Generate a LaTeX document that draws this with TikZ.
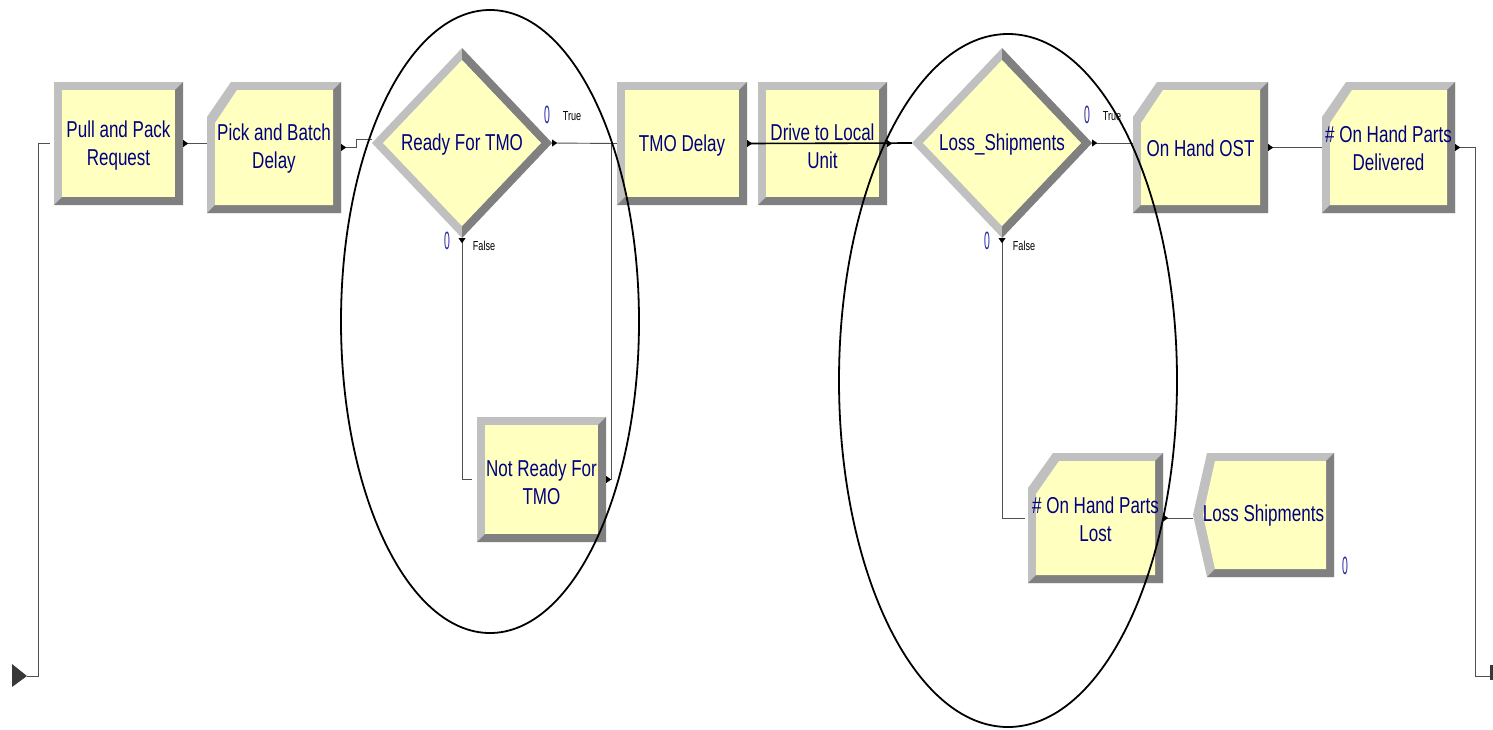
\documentclass[tikz,border=0pt]{standalone}
\usepackage{fontspec}
\setmainfont{Liberation Sans}[FakeStretch=0.74]
\newfontfamily\cntfont{Liberation Sans}[FakeStretch=0.42]
\newfontfamily\lblfont{Liberation Sans}[FakeStretch=0.7]
\usetikzlibrary{arrows.meta,calc}
\definecolor{modfill}{RGB}{255,255,192}
\definecolor{bevlight}{RGB}{192,192,192}
\definecolor{bevdark}{RGB}{128,128,128}
\definecolor{modtext}{RGB}{0,0,128}
\definecolor{cntblue}{RGB}{40,40,170}
\definecolor{conn}{RGB}{80,80,80}
\tikzset{
  modbody/.style={inner sep=0pt},
  modlabel/.style={inner sep=0pt, align=center, text=modtext, font=\fontsize{23}{28}\selectfont},
  cntlabel/.style={inner sep=0pt, text=cntblue, font=\cntfont\fontsize{25}{25}\selectfont},
  smalllabel/.style={inner sep=0pt, text=black, font=\lblfont\fontsize{13}{13}\selectfont},
  connector/.style={draw=conn, line width=0.9pt},
  mainconnector/.style={draw=black, line width=1.6pt},
  ring/.style={draw=black, line width=1.8pt},
}
% rectangular module: name x1 y1 x2 y2 text
\newcommand{\rectmod}[6]{%
  \fill[bevlight] (#2,#3) rectangle (#4,#5);
  \fill[bevdark] (#4,#3) -- (#4,#5) -- (#2,#5) -- (#2+8,#5-8) -- (#4-8,#5-8) -- (#4-8,#3+8) -- cycle;
  \fill[modfill] (#2+8,#3+8) rectangle (#4-8,#5-8);
  \node[modbody, minimum width=#4-#2, minimum height=#5-#3] (#1) at ({(#2+#4)/2},{(#3+#5)/2}) {};
  \node[modlabel] (#1-text) at ([yshift=-2.5pt]#1.center) {#6};
}
% cut-corner module: name x1 y1 x2 y2 cx cy text
\newcommand{\cutmod}[8]{%
  \fill[bevlight] (#2,#3+#7) -- (#2+#6,#3) -- (#4,#3) -- (#4,#5) -- (#2,#5) -- cycle;
  \fill[bevdark] (#4,#3) -- (#4,#5) -- (#2,#5) -- (#2+8,#5-8) -- (#4-8,#5-8) -- (#4-8,#3+8) -- cycle;
  \fill[modfill] (#2+8,#3+#7+6) -- (#2+#6+6,#3+8) -- (#4-8,#3+8) -- (#4-8,#5-8) -- (#2+8,#5-8) -- cycle;
  \node[modbody, minimum width=#4-#2, minimum height=#5-#3] (#1) at ({(#2+#4)/2},{(#3+#5)/2}) {};
  \node[modlabel] (#1-text) at ([yshift=-1pt]#1.center) {#8};
}
% decision module: name cx cy text
\newcommand{\decmod}[4]{%
  \fill[bevlight] (#2-90,#3) -- (#2,#3-95) -- (#2+90,#3) -- (#2,#3+95) -- cycle;
  \fill[bevdark] (#2,#3-95) -- (#2+90,#3) -- (#2,#3+95) -- (#2,#3+83) -- (#2+79,#3) -- (#2,#3-83) -- cycle;
  \fill[modfill] (#2-79,#3) -- (#2,#3-83) -- (#2+79,#3) -- (#2,#3+83) -- cycle;
  \node[modbody, minimum width=180, minimum height=190] (#1) at (#2,#3) {};
  \node[modlabel] (#1-text) at ([yshift=-1.5pt]#1.center) {#4};
}
\newcommand{\exitR}[1]{\fill[black] ($(#1)+(0,-3.5)$) -- ++(5,3.5) -- ++(-5,3.5) -- cycle;}
\newcommand{\exitD}[1]{\fill[black] ($(#1)+(-3.5,0)$) -- ++(3.5,5) -- ++(3.5,-5) -- cycle;}

\begin{document}
\begin{tikzpicture}[x=1pt, y=-1pt]
\useasboundingbox (0,0) rectangle (1493,729);
\fill[white] (0,0) rectangle (1493,729);

% modules
\rectmod{pp}{54}{82}{183}{205}{Pull and Pack\\Request}
\cutmod{pb}{207}{82}{341}{213}{24}{35}{Pick and Batch\\Delay}
\decmod{d1}{462}{143}{Ready For TMO}
\rectmod{nr}{477}{417}{606}{542}{Not Ready For\\TMO}
\rectmod{tmo}{617}{82}{747}{205}{TMO Delay}
\rectmod{drv}{758}{82}{887}{205}{Drive to Local\\Unit}
\decmod{d2}{1002}{143}{Loss\_Shipments}
\cutmod{ost}{1133}{82}{1268}{213}{24}{35}{On Hand OST}
\cutmod{pd}{1322}{82}{1455}{213}{24}{35}{\# On Hand Parts\\Delivered}
\cutmod{lost}{1028}{453}{1163}{583}{25}{35}{\# On Hand Parts\\Lost}
% dispose module
\fill[bevlight] (1207,453) -- (1334,453) -- (1334,577) -- (1207,577) -- (1193,515) -- cycle;
\fill[bevdark] (1334,453) -- (1334,577) -- (1207,577) -- (1215,569) -- (1326,569) -- (1326,461) -- cycle;
\fill[modfill] (1215,461) -- (1326,461) -- (1326,569) -- (1215,569) -- (1203,515) -- cycle;
\node[modbody, minimum width=141, minimum height=124] (ls) at (1263.5,515) {};
\node[modlabel] (ls-text) at ([yshift=-1pt]ls.center) {Loss Shipments};

% start and end markers
\fill[conn!70!black] (12,664) -- (27,676) -- (12,687) -- cycle;
\coordinate (startpt) at (27,676);
\coordinate (endpt) at (1490,676);
\fill[conn!70!black] (1490,665) rectangle (1493,680);

% connectors
\draw[connector] (startpt) -- ++(11,0) |- ([xshift=-4pt]pp.west);
\draw[connector] (pp.east) -- (pp.east -| pb.west);
\draw[connector] (pb.east) -- ++(15,0) |- ([yshift=4pt]d1.west);
\draw[connector] (d1.east) -- (tmo.west);
\draw[connector] (nr.east) -- ++(5,0) |- (tmo.west);
\draw[connector] (d1.south) |- ([xshift=-5pt]nr.west);
\draw[mainconnector] (tmo.east) -- (d2.west);
\draw[connector] (d2.east) -- (d2.east -| ost.west);
\draw[connector] (d2.south) |- ([xshift=-3pt]lost.west);
\draw[connector] (ost.east) -- (ost.east -| pd.west);
\draw[connector] (pd.east) -- ++(20,0) |- (endpt);
\draw[connector] (lost.east) -- (lost.east -| ls.west);

% exit points
\exitR{pp.east}
\exitR{pb.east}
\exitR{d1.east}
\exitD{d1.south}
\exitR{nr.east}
\exitR{tmo.east}
\exitR{drv.east}
\exitR{d2.east}
\exitD{d2.south}
\exitR{ost.east}
\exitR{pd.east}
\exitR{lost.east}

% counters and branch labels
\node[cntlabel] (c1) at (547,115) {0};
\node[smalllabel] (t1) at (572,116) {True};
\node[cntlabel] (c2) at (447,241) {0};
\node[smalllabel] (f1) at (484,246) {False};
\node[cntlabel] (c3) at (1087,115) {0};
\node[smalllabel] (t2) at (1112,116) {True};
\node[cntlabel] (c4) at (987,241) {0};
\node[smalllabel] (f2) at (1024,246) {False};
\node[cntlabel] (c5) at (1345,566) {0};

% highlight ellipses
\draw[ring] (490,321.5) ellipse [x radius=149, y radius=311.5];
\draw[ring] (1008,380.5) ellipse [x radius=169, y radius=346.5];
\end{tikzpicture}
\end{document}
